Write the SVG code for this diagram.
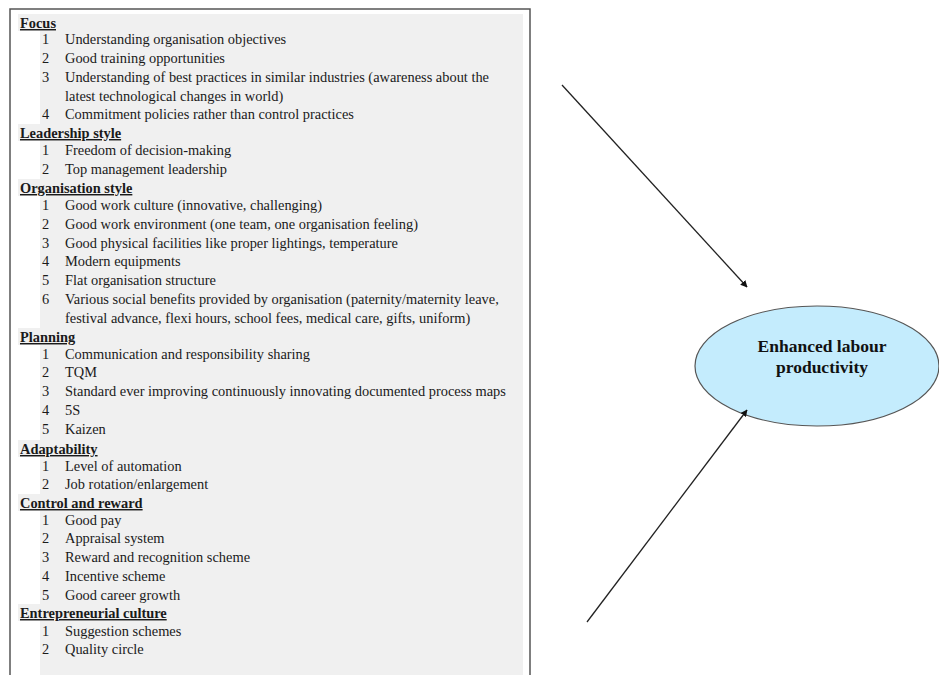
<svg xmlns="http://www.w3.org/2000/svg" width="939" height="675" viewBox="0 0 939 675">
  <defs>
    <style>
      .frame { fill: #ffffff; stroke: #555555; stroke-width: 1.5; }
      .shade { fill: #f0f0f0; }
      .txt { font-family: "Liberation Serif", "Times New Roman", serif; font-size: 14.4px; fill: #1a1a1a; }
      .hd { font-weight: bold; text-decoration: underline; }
      .goal { fill: #c4ecfd; stroke: #555555; stroke-width: 1.2; }
      .goal-label { font-family: "Liberation Serif", "Times New Roman", serif; font-size: 17.5px; font-weight: bold; fill: #111111; text-anchor: middle; }
      .link { stroke: #222222; stroke-width: 1.3; fill: none; marker-end: url(#head); }
    </style>
    <marker id="head" viewBox="0 0 10 10" refX="9" refY="5" markerWidth="7" markerHeight="7" orient="auto" markerUnits="userSpaceOnUse">
      <path d="M0,0 L10,5 L0,10 z" fill="#111111"/>
    </marker>
  </defs>

  <rect width="939" height="675" fill="#ffffff"/>

  <!-- factor list panel -->
  <g id="factors">
    <rect class="frame" x="10" y="9" width="520" height="680"/>
    <rect class="shade" x="40" y="14" width="483" height="661"/>
    <!-- header row shading reaches further left -->
    <rect class="shade" x="18" y="14" width="22" height="17"/>
    <rect class="shade" x="18" y="124" width="22" height="17"/>
    <rect class="shade" x="18" y="179" width="22" height="17"/>
    <rect class="shade" x="18" y="328" width="22" height="17"/>
    <rect class="shade" x="18" y="440" width="22" height="17"/>
    <rect class="shade" x="18" y="494" width="22" height="17"/>
    <rect class="shade" x="18" y="604" width="22" height="17"/>

    <g class="txt">
      <text class="hd" x="20" y="28">Focus</text>
      <text x="42" y="44">1</text><text x="65" y="44">Understanding organisation objectives</text>
      <text x="42" y="63">2</text><text x="65" y="63">Good training opportunities</text>
      <text x="42" y="82">3</text><text x="65" y="82">Understanding of best practices in similar industries (awareness about the</text>
      <text x="65" y="101">latest technological changes in world)</text>
      <text x="42" y="119">4</text><text x="65" y="119">Commitment policies rather than control practices</text>

      <text class="hd" x="20" y="138">Leadership style</text>
      <text x="42" y="155">1</text><text x="65" y="155">Freedom of decision-making</text>
      <text x="42" y="174">2</text><text x="65" y="174">Top management leadership</text>

      <text class="hd" x="20" y="193">Organisation style</text>
      <text x="42" y="210">1</text><text x="65" y="210">Good work culture (innovative, challenging)</text>
      <text x="42" y="229">2</text><text x="65" y="229">Good work environment (one team, one organisation feeling)</text>
      <text x="42" y="248">3</text><text x="65" y="248">Good physical facilities like proper lightings, temperature</text>
      <text x="42" y="266">4</text><text x="65" y="266">Modern equipments</text>
      <text x="42" y="285">5</text><text x="65" y="285">Flat organisation structure</text>
      <text x="42" y="304">6</text><text x="65" y="304">Various social benefits provided by organisation (paternity/maternity leave,</text>
      <text x="65" y="323">festival advance, flexi hours, school fees, medical care, gifts, uniform)</text>

      <text class="hd" x="20" y="342">Planning</text>
      <text x="42" y="359">1</text><text x="65" y="359">Communication and responsibility sharing</text>
      <text x="42" y="377">2</text><text x="65" y="377">TQM</text>
      <text x="42" y="396">3</text><text x="65" y="396">Standard ever improving continuously innovating documented process maps</text>
      <text x="42" y="415">4</text><text x="65" y="415">5S</text>
      <text x="42" y="434">5</text><text x="65" y="434">Kaizen</text>

      <text class="hd" x="20" y="454">Adaptability</text>
      <text x="42" y="471">1</text><text x="65" y="471">Level of automation</text>
      <text x="42" y="489">2</text><text x="65" y="489">Job rotation/enlargement</text>

      <text class="hd" x="20" y="508">Control and reward</text>
      <text x="42" y="525">1</text><text x="65" y="525">Good pay</text>
      <text x="42" y="543">2</text><text x="65" y="543">Appraisal system</text>
      <text x="42" y="562">3</text><text x="65" y="562">Reward and recognition scheme</text>
      <text x="42" y="581">4</text><text x="65" y="581">Incentive scheme</text>
      <text x="42" y="600">5</text><text x="65" y="600">Good career growth</text>

      <text class="hd" x="20" y="618">Entrepreneurial culture</text>
      <text x="42" y="636">1</text><text x="65" y="636">Suggestion schemes</text>
      <text x="42" y="654">2</text><text x="65" y="654">Quality circle</text>
    </g>
  </g>

  <!-- outcome node -->
  <g id="outcome">
    <ellipse class="goal" cx="817" cy="366" rx="122" ry="60"/>
    <text class="goal-label" x="822" y="352">Enhanced labour</text>
    <text class="goal-label" x="822" y="373">productivity</text>
  </g>

  <!-- connectors -->
  <g id="connectors">
    <line class="link" x1="562" y1="85" x2="747" y2="287"/>
    <line class="link" x1="587" y1="622" x2="747" y2="410"/>
  </g>
</svg>
